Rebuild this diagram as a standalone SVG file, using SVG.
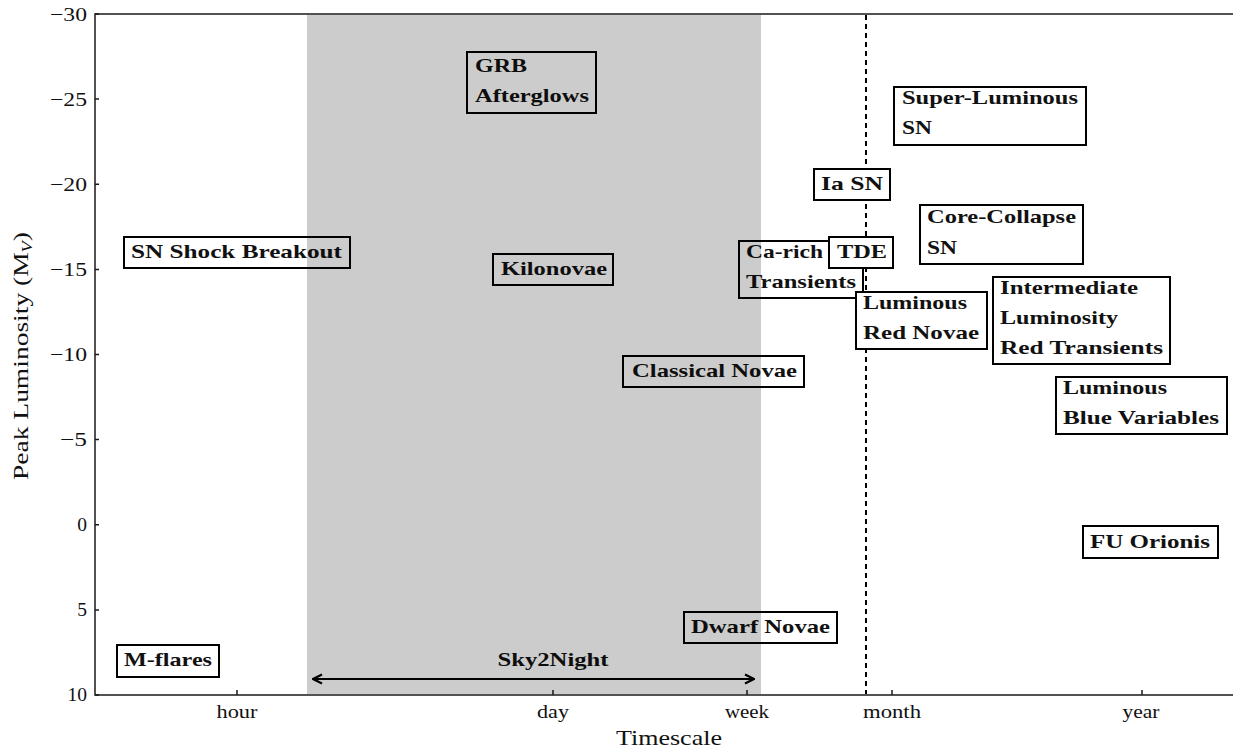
<svg xmlns="http://www.w3.org/2000/svg" width="1233" height="750" viewBox="0 0 1233 750">
<defs>
<style>
.ax{stroke:#1a1a1a;stroke-width:1.5;fill:none}
.tk{font-family:"Liberation Serif","Times New Roman",serif;font-size:19.5px;fill:#111}
.yl{text-anchor:end}
.xl{text-anchor:middle}
.box{fill:#fff;stroke:#000;stroke-width:2}
.lb{font-family:"Liberation Serif","Times New Roman",serif;font-size:19px;font-weight:bold;fill:#111}
</style>
<marker id="ah" viewBox="0 0 12 12" refX="11" refY="6" markerWidth="12" markerHeight="12" markerUnits="userSpaceOnUse" orient="auto-start-reverse">
<path d="M2,1.5 L11,6 L2,10.5" fill="none" stroke="#000" stroke-width="2.2" stroke-linejoin="miter"/>
</marker>
</defs>
<rect width="1233" height="750" fill="#fff"/>

<g id="axes">
<path class="ax" d="M1233,14 H95 V695 H1233"/>
<g stroke="#1a1a1a" stroke-width="1.5">
<path d="M95,14h4M95,99.1h4M95,184.25h4M95,269.4h4M95,354.5h4M95,439.6h4M95,524.75h4M95,609.9h4M95,695h4"/>
<path d="M237,695v-5M553,695v-5M747,695v-5M892,695v-5M1142,695v-5"/>
</g>
<g class="tk yl">
<text x="87" y="20.5" textLength="37" lengthAdjust="spacingAndGlyphs">−30</text>
<text x="87" y="105.5" textLength="37" lengthAdjust="spacingAndGlyphs">−25</text>
<text x="87" y="190.5" textLength="37" lengthAdjust="spacingAndGlyphs">−20</text>
<text x="87" y="275.5" textLength="37" lengthAdjust="spacingAndGlyphs">−15</text>
<text x="87" y="360.5" textLength="37" lengthAdjust="spacingAndGlyphs">−10</text>
<text x="87" y="446" textLength="27" lengthAdjust="spacingAndGlyphs">−5</text>
<text x="87" y="531">0</text>
<text x="87" y="616">5</text>
<text x="87" y="701">10</text>
</g>
<g class="tk xl">
<text x="237" y="718" textLength="41" lengthAdjust="spacingAndGlyphs">hour</text>
<text x="553" y="718" textLength="32" lengthAdjust="spacingAndGlyphs">day</text>
<text x="747" y="718" textLength="44" lengthAdjust="spacingAndGlyphs">week</text>
<text x="892" y="718" textLength="58" lengthAdjust="spacingAndGlyphs">month</text>
<text x="1141" y="718" textLength="37" lengthAdjust="spacingAndGlyphs">year</text>
</g>
<text x="669" y="745" text-anchor="middle" font-family="Liberation Serif,Times New Roman,serif" font-size="21" fill="#111" textLength="106" lengthAdjust="spacingAndGlyphs">Timescale</text>
<text transform="translate(28,356) rotate(-90)" text-anchor="middle" font-family="Liberation Serif,Times New Roman,serif" font-size="21" fill="#111" textLength="248" lengthAdjust="spacingAndGlyphs">Peak Luminosity (M<tspan font-size="14" font-style="italic" dy="4">V</tspan><tspan dy="-4">)</tspan></text>
</g>

<g id="connectors">
<line id="month-line" x1="866" y1="15" x2="866" y2="694" stroke="#000" stroke-width="2" stroke-dasharray="5,4"/>
<line id="sky2night-arrow" x1="313" y1="679" x2="754" y2="679" stroke="#000" stroke-width="2" marker-start="url(#ah)" marker-end="url(#ah)"/>
<text class="lb" x="553" y="666" text-anchor="middle" textLength="111" lengthAdjust="spacingAndGlyphs">Sky2Night</text>
</g>

<g id="grb">
<rect class="box" x="467" y="52" width="129" height="61"/>
<text class="lb" x="475" y="72" textLength="52" lengthAdjust="spacingAndGlyphs">GRB</text>
<text class="lb" x="475" y="102" textLength="114" lengthAdjust="spacingAndGlyphs">Afterglows</text>
</g>
<g id="sn-shock-breakout">
<rect class="box" x="124" y="237" width="226" height="31"/>
<text class="lb" x="131" y="258" textLength="211" lengthAdjust="spacingAndGlyphs">SN Shock Breakout</text>
</g>
<g id="kilonovae">
<rect class="box" x="493" y="254" width="120" height="31"/>
<text class="lb" x="501" y="275" textLength="106" lengthAdjust="spacingAndGlyphs">Kilonovae</text>
</g>
<g id="ca-rich">
<rect class="box" x="739" y="241" width="124" height="57"/>
<text class="lb" x="746" y="258" textLength="77" lengthAdjust="spacingAndGlyphs">Ca-rich</text>
<text class="lb" x="746" y="288" textLength="110" lengthAdjust="spacingAndGlyphs">Transients</text>
</g>
<g id="tde">
<rect class="box" x="829" y="237" width="64" height="31"/>
<text class="lb" x="837" y="258" textLength="50" lengthAdjust="spacingAndGlyphs">TDE</text>
</g>
<g id="ia-sn">
<rect class="box" x="814" y="169" width="76" height="31"/>
<text class="lb" x="821" y="190" textLength="62" lengthAdjust="spacingAndGlyphs">Ia SN</text>
</g>
<g id="luminous-red-novae">
<rect class="box" x="856" y="292" width="131" height="57"/>
<text class="lb" x="863" y="309" textLength="104" lengthAdjust="spacingAndGlyphs">Luminous</text>
<text class="lb" x="863" y="339" textLength="116" lengthAdjust="spacingAndGlyphs">Red Novae</text>
</g>
<g id="core-collapse-sn">
<rect class="box" x="920" y="205" width="163" height="59"/>
<text class="lb" x="927" y="223" textLength="149" lengthAdjust="spacingAndGlyphs">Core-Collapse</text>
<text class="lb" x="927" y="254" textLength="30" lengthAdjust="spacingAndGlyphs">SN</text>
</g>
<g id="super-luminous-sn">
<rect class="box" x="894" y="87" width="192" height="58"/>
<text class="lb" x="902" y="104" textLength="176" lengthAdjust="spacingAndGlyphs">Super-Luminous</text>
<text class="lb" x="902" y="134" textLength="30" lengthAdjust="spacingAndGlyphs">SN</text>
</g>
<g id="ilrt">
<rect class="box" x="993" y="277" width="177" height="87"/>
<text class="lb" x="1000" y="294" textLength="138" lengthAdjust="spacingAndGlyphs">Intermediate</text>
<text class="lb" x="1000" y="324" textLength="118" lengthAdjust="spacingAndGlyphs">Luminosity</text>
<text class="lb" x="1000" y="354" textLength="163" lengthAdjust="spacingAndGlyphs">Red Transients</text>
</g>
<g id="lbv">
<rect class="box" x="1056" y="377" width="171" height="57"/>
<text class="lb" x="1063" y="394" textLength="104" lengthAdjust="spacingAndGlyphs">Luminous</text>
<text class="lb" x="1063" y="424" textLength="156" lengthAdjust="spacingAndGlyphs">Blue Variables</text>
</g>
<g id="fu-orionis">
<rect class="box" x="1083" y="526" width="135" height="32"/>
<text class="lb" x="1090" y="548" textLength="120" lengthAdjust="spacingAndGlyphs">FU Orionis</text>
</g>
<g id="classical-novae">
<rect class="box" x="623" y="356" width="181" height="31"/>
<text class="lb" x="632" y="377" textLength="165" lengthAdjust="spacingAndGlyphs">Classical Novae</text>
</g>
<g id="dwarf-novae">
<rect class="box" x="684" y="612" width="153" height="31"/>
<text class="lb" x="691" y="633" textLength="139" lengthAdjust="spacingAndGlyphs">Dwarf Novae</text>
</g>
<g id="m-flares">
<rect class="box" x="117" y="645" width="102" height="32"/>
<text class="lb" x="124" y="666" textLength="88" lengthAdjust="spacingAndGlyphs">M-flares</text>
</g>

<rect id="sky2night-span" x="307" y="15" width="454" height="679" fill="#000" fill-opacity="0.2"/>
</svg>
